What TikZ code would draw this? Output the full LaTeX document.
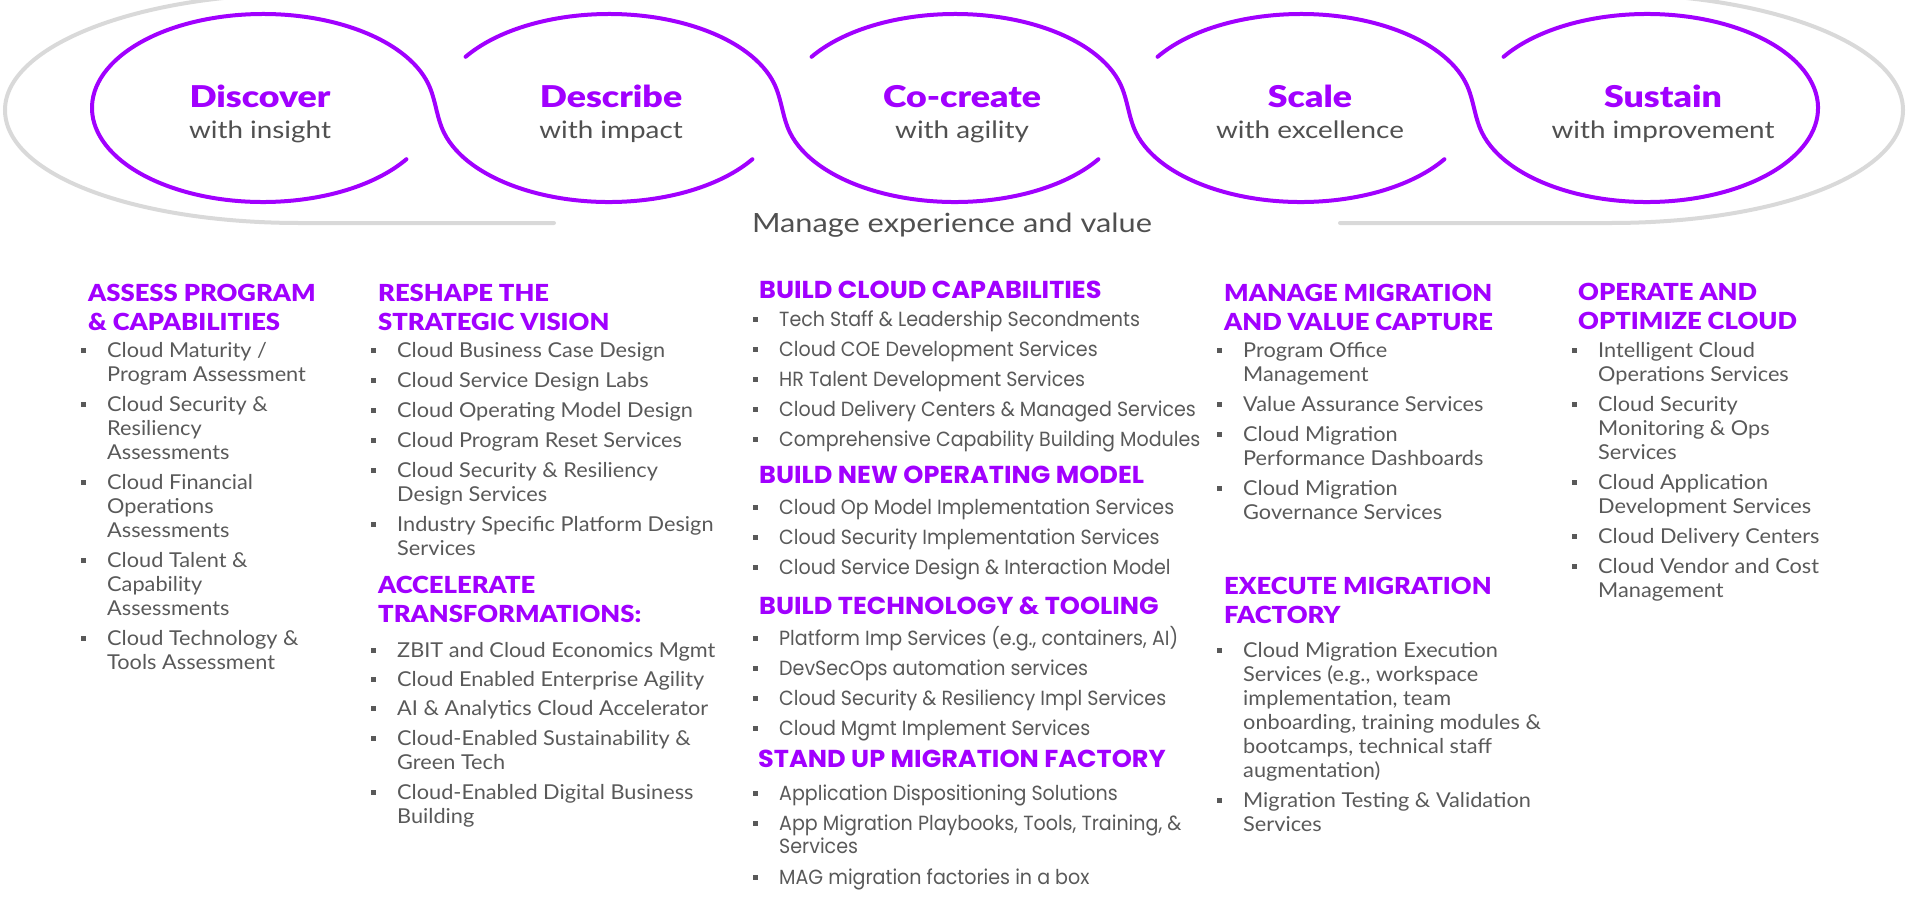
\documentclass[tikz,border=0pt]{standalone}
\usepackage{fontspec}
\setmainfont{Lato}
\newfontfamily\bodyfam{Lato}[FakeStretch=1.06]
\newfontfamily\subfam{Lato}[FakeStretch=1.16]
\newfontfamily\headfam{Lato Black}[FakeStretch=1.09]
\newfontfamily\titlefam{Lato Black}[FakeStretch=1.19]
\newfontfamily\widebody{Poppins}[FakeStretch=0.93]
\newfontfamily\widehead{Poppins}[FakeStretch=1.045]
\definecolor{accpurple}{HTML}{A100FF}
\definecolor{txtgray}{HTML}{595959}
\definecolor{subgray}{HTML}{505050}
\definecolor{ringgray}{HTML}{D9D9D9}

\newcommand\fTitle{\titlefam\fontsize{30}{30}\selectfont}
\newcommand\fSub{\subfam\fontsize{24}{24}\selectfont}
\newcommand\fMev{\subfam\fontsize{26.5}{26.5}\selectfont}
\newcommand\fHead{\headfam\fontsize{23.5}{23.5}\selectfont}
\newcommand\fBody{\bodyfam\fontsize{20.5}{20.5}\selectfont}
\newcommand\fHeadW{\widehead\bfseries\fontsize{24.5}{24.5}\selectfont}
\newcommand\fBodyW{\widebody\fontsize{20.5}{20.5}\selectfont}

% heading block: name, style, x, first baseline, pitch, lines
\newcommand\headblock[6]{%
  \foreach \ln [count=\k] in {#6} {
    \node[#2] (#1-\k) at ({#3},{#4+(\k-1)*#5}) {\ln};
  }}
% bulleted item: name, style, x of text, first baseline, pitch, lines
\newcommand\bulitem[6]{%
  \node[bul] (#1-b) at ({#3-23.5},{#4-7}) {};
  \foreach \ln [count=\k] in {#6} {
    \node[#2] (#1-\k) at ({#3},{#4+(\k-1)*#5}) {\ln};
  }}

\tikzset{
  loopline/.style={draw=accpurple, line width=4pt, line cap=round},
  ringline/.style={draw=ringgray, line width=4pt, line cap=round},
  ttl/.style={font=\fTitle, text=accpurple, anchor=base, inner sep=0pt},
  sub/.style={font=\fSub, text=subgray, anchor=base, inner sep=0pt},
  hd/.style={font=\fHead, text=accpurple, anchor=base west, inner sep=0pt},
  tx/.style={font=\fBody, text=txtgray, anchor=base west, inner sep=0pt},
  hdw/.style={font=\fHeadW, text=accpurple, anchor=base west, inner sep=0pt},
  txw/.style={font=\fBodyW, text=txtgray, anchor=base west, inner sep=0pt},
  bul/.style={fill=txtgray, draw=none, minimum size=5pt, inner sep=0pt, rectangle},
  el/.style={x radius=171pt, y radius=94pt}
}

\begin{document}
\begin{tikzpicture}[x=1pt,y=-1pt]
\useasboundingbox (0,0) rectangle (1912,908);
\clip (0,0) rectangle (1912,908);

% outer grey ring
\draw[ringline] (554,223) -- (300,223)
  .. controls (135,223) and (5,175) .. (5,110)
  .. controls (5,45) and (140,-6) .. (300,-6) -- (1610,-6)
  .. controls (1770,-6) and (1903,45) .. (1903,110)
  .. controls (1903,175) and (1775,223) .. (1610,223) -- (1340,223);

% chain of five loops (centres 263, 609, 955, 1301, 1647)
\draw[loopline] ({263+171*cos(33)},{108+94*sin(33)})
  arc[start angle=-33, end angle=-345, el]
  .. controls +(7.5,15.5) and +(-7.5,-15.5) .. ({609-171*cos(15)},{108+94*sin(15)})
  arc[start angle=195, end angle=327, el];
\draw[loopline] ({609-171*cos(33)},{108-94*sin(33)})
  arc[start angle=147, end angle=15, el]
  .. controls +(7.5,15.5) and +(-7.5,-15.5) .. ({955-171*cos(15)},{108+94*sin(15)})
  arc[start angle=195, end angle=327, el];
\draw[loopline] ({955-171*cos(33)},{108-94*sin(33)})
  arc[start angle=147, end angle=15, el]
  .. controls +(7.5,15.5) and +(-7.5,-15.5) .. ({1301-171*cos(15)},{108+94*sin(15)})
  arc[start angle=195, end angle=327, el];
\draw[loopline] ({1301-171*cos(33)},{108-94*sin(33)})
  arc[start angle=147, end angle=15, el]
  .. controls +(7.5,15.5) and +(-7.5,-15.5) .. ({1647-171*cos(15)},{108+94*sin(15)})
  arc[start angle=195, end angle=507, el];

% loop labels
\node[ttl] (t1) at (260,107) {Discover};
\node[sub] (s1) at (260,138) {with insight};
\node[ttl] (t2) at (611,107) {Describe};
\node[sub] (s2) at (611,138) {with impact};
\node[ttl] (t3) at (962,107) {Co-create};
\node[sub] (s3) at (962,138) {with agility};
\node[ttl] (t4) at (1310,107) {Scale};
\node[sub] (s4) at (1310,138) {with excellence};
\node[ttl] (t5) at (1663,107) {Sustain};
\node[sub] (s5) at (1663,138) {with improvement};
\node[sub, font=\fMev] (mev) at (952,232) {Manage experience and value};

% column 1
\headblock{ha}{hd}{88}{301}{29}{ASSESS PROGRAM,\& CAPABILITIES}
\bulitem{a1}{tx}{107}{357}{24}{Cloud Maturity /,Program Assessment}
\bulitem{a2}{tx}{107}{411}{24}{Cloud Security \&,Resiliency,Assessments}
\bulitem{a3}{tx}{107}{489}{24}{Cloud Financial,Operations,Assessments}
\bulitem{a4}{tx}{107}{567}{24}{Cloud Talent \&,Capability,Assessments}
\bulitem{a5}{tx}{107}{645}{24}{Cloud Technology \&,Tools Assessment}

% column 2
\headblock{hb}{hd}{378}{301}{29}{RESHAPE THE,STRATEGIC VISION}
\bulitem{b1}{tx}{397}{357}{24}{Cloud Business Case Design}
\bulitem{b2}{tx}{397}{387}{24}{Cloud Service Design Labs}
\bulitem{b3}{tx}{397}{417}{24}{Cloud Operating Model Design}
\bulitem{b4}{tx}{397}{447}{24}{Cloud Program Reset Services}
\bulitem{b5}{tx}{397}{477}{24}{Cloud Security \& Resiliency,Design Services}
\bulitem{b6}{tx}{397}{531}{24}{Industry Specific Platform Design,Services}
\headblock{hc}{hd}{378}{593}{29}{ACCELERATE,TRANSFORMATIONS:}
\bulitem{c1}{tx}{397}{657}{24}{ZBIT and Cloud Economics Mgmt}
\bulitem{c2}{tx}{397}{686}{24}{Cloud Enabled Enterprise Agility}
\bulitem{c3}{tx}{397}{715}{24}{AI \& Analytics Cloud Accelerator}
\bulitem{c4}{tx}{397}{745}{24}{Cloud-Enabled Sustainability \&,Green Tech}
\bulitem{c5}{tx}{397}{799}{24}{Cloud-Enabled Digital Business,Building}

% column 3
\headblock{hd1}{hdw}{759}{298}{30}{BUILD CLOUD CAPABILITIES}
\bulitem{d1}{txw}{779}{326}{30}{Tech Staff \& Leadership Secondments}
\bulitem{d2}{txw}{779}{356}{30}{Cloud COE Development Services}
\bulitem{d3}{txw}{779}{386}{30}{HR Talent Development Services}
\bulitem{d4}{txw}{779}{416}{30}{Cloud Delivery Centers \& Managed Services}
\bulitem{d5}{txw}{779}{446}{30}{Comprehensive Capability Building Modules}
\headblock{hd2}{hdw}{759}{483}{30}{BUILD NEW OPERATING MODEL}
\bulitem{e1}{txw}{779}{514}{30}{Cloud Op Model Implementation Services}
\bulitem{e2}{txw}{779}{544}{30}{Cloud Security Implementation Services}
\bulitem{e3}{txw}{779}{574}{30}{Cloud Service Design \& Interaction Model}
\headblock{hd3}{hdw}{759}{614}{30}{BUILD TECHNOLOGY \& TOOLING}
\bulitem{f1}{txw}{779}{645}{30}{{Platform Imp Services (e.g., containers, AI)}}
\bulitem{f2}{txw}{779}{675}{30}{DevSecOps automation services}
\bulitem{f3}{txw}{779}{705}{30}{Cloud Security \& Resiliency Impl Services}
\bulitem{f4}{txw}{779}{735}{30}{Cloud Mgmt Implement Services}
\headblock{hd4}{hdw}{758}{767}{30}{STAND UP MIGRATION FACTORY}
\bulitem{g1}{txw}{779}{800}{30}{Application Dispositioning Solutions}
\bulitem{g2}{txw}{779}{830}{23.5}{{App Migration Playbooks, Tools, Training, \&},Services}
\bulitem{g3}{txw}{779}{884}{30}{MAG migration factories in a box}

% column 4
\headblock{hh}{hd}{1224}{301}{29}{MANAGE MIGRATION,AND VALUE CAPTURE}
\bulitem{h1}{tx}{1243}{357}{24}{Program Office,Management}
\bulitem{h2}{tx}{1243}{411}{24}{Value Assurance Services}
\bulitem{h3}{tx}{1243}{441}{24}{Cloud Migration,Performance Dashboards}
\bulitem{h4}{tx}{1243}{495}{24}{Cloud Migration,Governance Services}
\headblock{hi}{hd}{1224}{594}{29}{EXECUTE MIGRATION,FACTORY}
\bulitem{i1}{tx}{1243}{657}{24}{Cloud Migration Execution,{Services (e.g., workspace},{implementation, team},{onboarding, training modules \&},{bootcamps, technical staff},augmentation)}
\bulitem{i2}{tx}{1243}{807}{24}{Migration Testing \& Validation,Services}

% column 5
\headblock{hj}{hd}{1578}{300}{29}{OPERATE AND,OPTIMIZE CLOUD}
\bulitem{j1}{tx}{1598}{357}{24}{Intelligent Cloud,Operations Services}
\bulitem{j2}{tx}{1598}{411}{24}{Cloud Security,Monitoring \& Ops,Services}
\bulitem{j3}{tx}{1598}{489}{24}{Cloud Application,Development Services}
\bulitem{j4}{tx}{1598}{543}{24}{Cloud Delivery Centers}
\bulitem{j5}{tx}{1598}{573}{24}{Cloud Vendor and Cost,Management}
\end{tikzpicture}
\end{document}
